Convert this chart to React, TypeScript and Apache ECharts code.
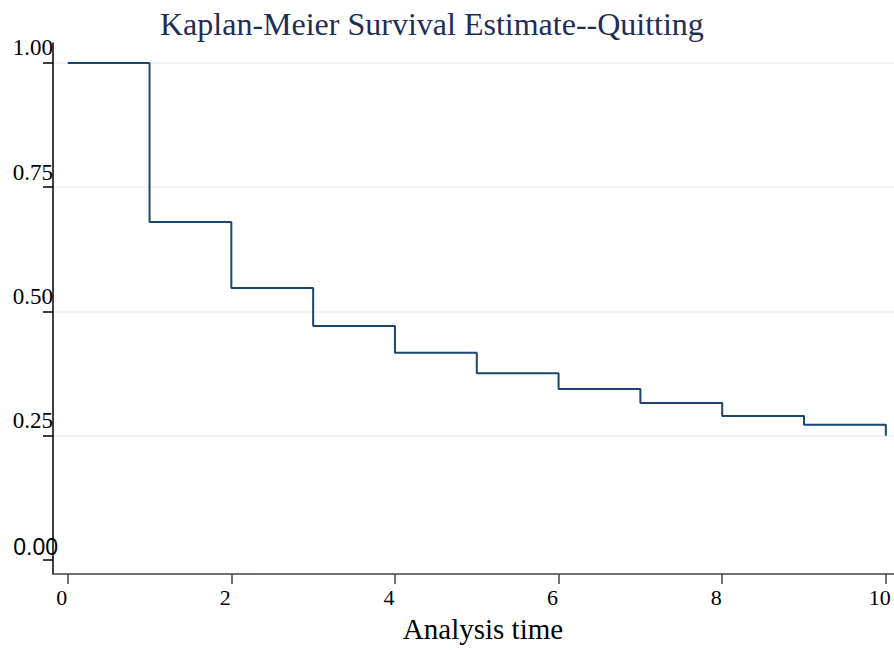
import React, { useEffect, useRef } from "react";
import * as echarts from "echarts";

const times = [0, 1, 2, 3, 4, 5, 6, 7, 8, 9, 10];
const survival = [1.0, 0.68, 0.547, 0.471, 0.417, 0.376, 0.344, 0.316, 0.29, 0.272, 0.25];
const xTicks = [0, 2, 4, 6, 8, 10];
const yTicks = [0, 0.25, 0.5, 0.75, 1.0];
const yGrid = [0.25, 0.5, 0.75, 1.0];

export default function App() {
  const ref = useRef<HTMLDivElement>(null);
  useEffect(() => {
    if (!ref.current) return;
    const chart = echarts.init(ref.current, null, { renderer: "svg" });
    const serif = "'Liberation Serif', 'Times New Roman', serif";
    chart.setOption({
      animation: false,
      backgroundColor: "#ffffff",
      title: {
        text: "Kaplan-Meier Survival Estimate--Quitting",
        left: 160,
        top: 8,
        padding: 0,
        textStyle: { fontFamily: serif, fontSize: 32, fontWeight: "normal", color: "#1f2d56" },
      },
      grid: { left: 53, right: 0, top: 43, bottom: 76, containLabel: false },
      xAxis: {
        type: "value",
        min: -0.18,
        max: 10.1,
        name: "Analysis time",
        nameLocation: "middle",
        nameGap: 40,
        nameTextStyle: { fontFamily: serif, fontSize: 29, color: "#000", padding: [0, 0, 0, 19] },
        axisLine: { show: true, onZero: false, lineStyle: { color: "#444", width: 1.5 } },
        axisTick: { show: true, length: 10, customValues: xTicks, lineStyle: { color: "#444", width: 1.5 } },
        axisLabel: {
          customValues: xTicks,
          fontFamily: serif,
          fontSize: 22,
          color: "#000",
          margin: 12,
          padding: [0, 12, 0, 0],
        },
        splitLine: { show: false },
      },
      yAxis: {
        type: "value",
        min: -0.028,
        max: 1.04,
        axisLine: { show: true, onZero: false, lineStyle: { color: "#000", width: 1.5 } },
        axisTick: { show: true, length: 10, customValues: yTicks, lineStyle: { color: "#000", width: 1.5 } },
        axisLabel: {
          customValues: yTicks,
          margin: -5,
          verticalAlign: "bottom",
          formatter: (v: number) => (v === 0 ? "{s|0.00}" : "{t|" + v.toFixed(2) + "}"),
          rich: {
            t: { fontFamily: serif, fontSize: 23, color: "#000", padding: [0, 5, 7, 0], lineHeight: 23 },
            s: { fontFamily: "'Liberation Sans', Arial, sans-serif", fontSize: 23, color: "#000", padding: [0, 0, 4, 0], lineHeight: 23 },
          },
        },
        splitLine: { show: false },
      },
      series: [
        {
          type: "line",
          z: 0,
          data: [],
          silent: true,
          markLine: {
            z: 0,
            silent: true,
            symbol: "none",
            label: { show: false },
            lineStyle: { color: "#eaf2f3", type: "solid", width: 1.5 },
            data: yGrid.map((y) => ({ yAxis: y })),
          },
        },
        {
          type: "line",
          z: 10,
          step: "end",
          showSymbol: false,
          data: times.map((t, i) => [t, survival[i]]),
          lineStyle: { color: "#1a476f", width: 2 },
        },
      ],
    });
    return () => chart.dispose();
  }, []);
  return <div ref={ref} style={{ position: "fixed", left: 0, top: 0, width: 894, height: 650 }} />;
}
